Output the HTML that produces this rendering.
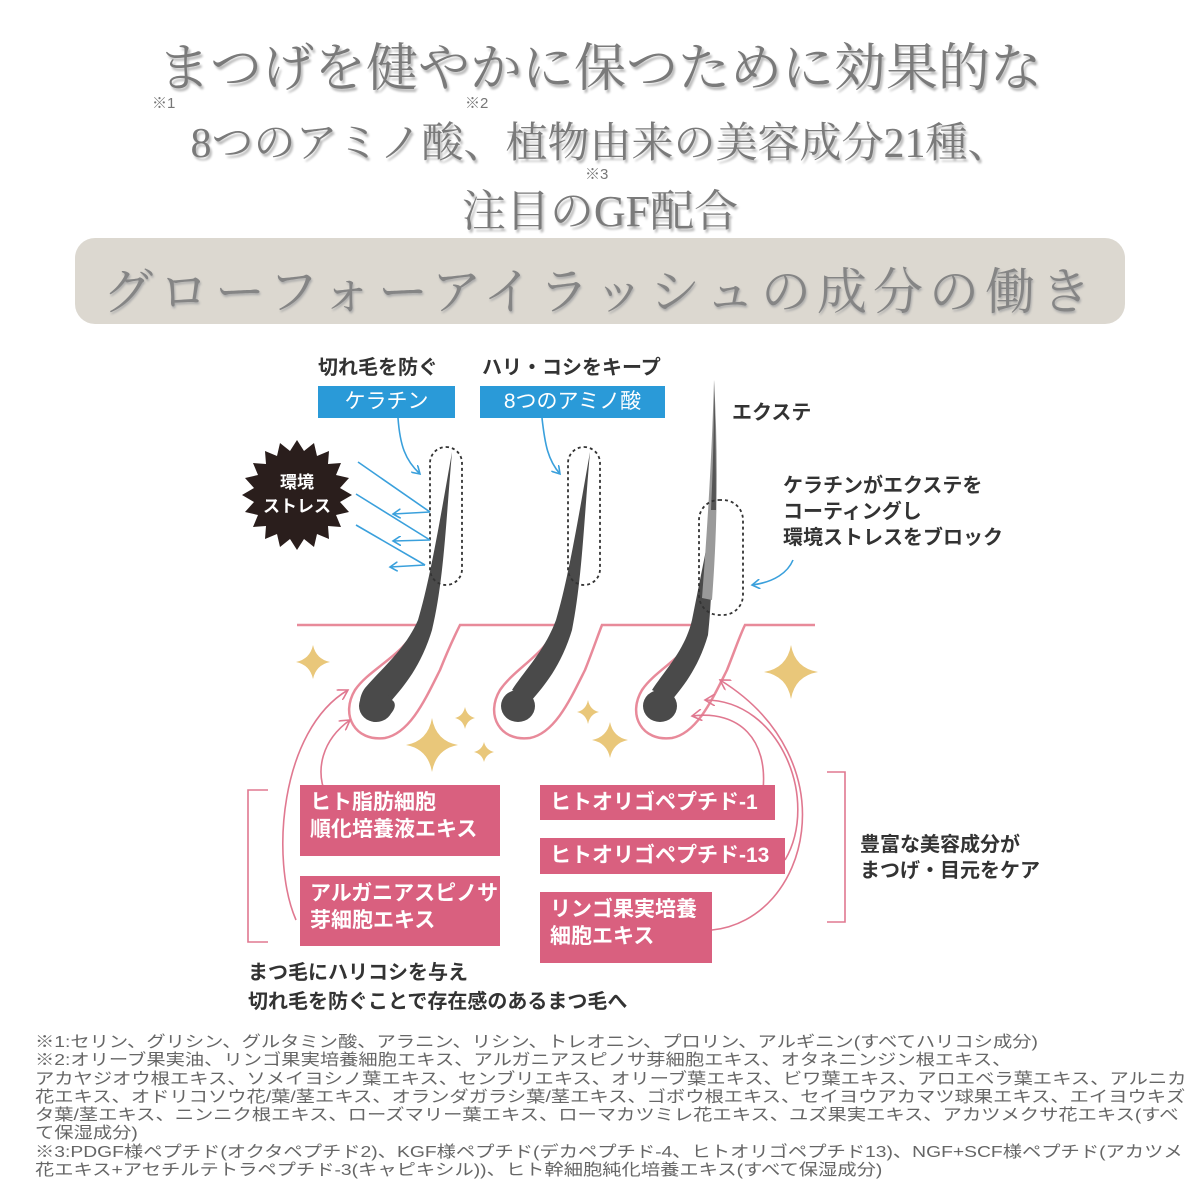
<!DOCTYPE html>
<html><head><meta charset="utf-8"><style>
body{margin:0;width:1200px;height:1200px;background:#fff;position:relative;overflow:hidden;font-family:"Liberation Sans","Noto Sans CJK JP",sans-serif}
.t{position:absolute;left:0;width:1200px;text-align:center;font-family:"Liberation Serif","Noto Serif CJK SC",serif;color:#7a7a7a;text-shadow:2px 3px 2px #bbb;white-space:nowrap}
.sup{position:absolute;font-size:15px;color:#777;font-family:"Liberation Sans","Noto Sans CJK JP",sans-serif}
.lbl{position:absolute;font-size:20px;font-weight:bold;color:#333;white-space:nowrap;line-height:26px}
.pk{position:absolute;background:#d9607f;color:#fff;font-size:21px;font-weight:bold;line-height:27px;padding:4px 10px;box-sizing:border-box;white-space:nowrap}
.bl{position:absolute;background:#2a9ad8;color:#fff;font-size:21px;text-align:center;line-height:32px;height:32px}
.fn{position:absolute;left:35px;top:1034px;font-size:16px;line-height:18.3px;color:#666;white-space:nowrap;transform:scaleX(1.205);transform-origin:0 0}
</style></head><body>
<div class="t" style="top:26px;font-size:52px;">まつげを健やかに保つために効果的な</div>
<div class="sup" style="left:152px;top:92px">※1</div>
<div class="sup" style="left:465px;top:92px">※2</div>
<div class="t" style="top:110px;font-size:42px;">8つのアミノ酸、植物由来の美容成分21種、</div>
<div class="sup" style="left:585px;top:163px">※3</div>
<div class="t" style="top:175px;font-size:44px;">注目のGF配合</div>
<div style="position:absolute;left:75px;top:238px;width:1050px;height:86px;border-radius:20px;background:#dcd8d0"></div>
<div class="t" style="top:252px;font-size:50px;letter-spacing:6px;color:#858585;text-shadow:1px 2px 2px #aaa">グローフォーアイラッシュの成分の働き</div>

<svg style="position:absolute;left:0;top:0" width="1200" height="1200">
<defs>
<marker id="ab" markerWidth="10" markerHeight="10" refX="8" refY="5" orient="auto" markerUnits="userSpaceOnUse"><path d="M0,0 L8,5 L0,10" fill="none" stroke="#3aa0dc" stroke-width="1.6"/></marker>
<marker id="ap" markerWidth="12" markerHeight="12" refX="10" refY="6" orient="auto" markerUnits="userSpaceOnUse"><path d="M0,0 L10,6 L0,12" fill="none" stroke="#e07890" stroke-width="1.6"/></marker>
</defs>
<path d="M297,625 H418 C405,655 370,668 355,690 C340,715 355,742 385,738 C410,733 425,700 440,670 C448,650 455,635 460,625 H558 C545,655 515,668 500,690 C485,715 500,742 530,738 C555,733 570,700 585,670 C593,650 598,635 602,625 H702 C690,655 657,668 642,690 C627,715 642,742 672,738 C697,733 712,700 727,670 C735,650 740,635 745,625 H815" fill="none" stroke="#e88a9a" stroke-width="2.5"/>
<g fill="#4a4a4a">
<path d="M452,452 C446,520 444,580 432,630 C420,670 400,690 392,700 C400,705 390,720 375,722 C358,720 356,700 365,688 C380,670 405,650 418,620 C430,580 440,520 452,452 Z"/>
<ellipse cx="376" cy="706" rx="17" ry="16"/>
<path d="M590,452 C584,520 582,580 572,630 C560,670 540,690 532,700 L512,690 C525,670 545,650 556,620 C568,580 578,520 590,452 Z"/>
<ellipse cx="518" cy="706" rx="17" ry="16"/>
<path d="M716,500 C712,560 712,600 708,635 C698,670 680,690 672,700 L652,690 C665,670 685,650 692,620 C700,580 708,540 716,500 Z"/>
<ellipse cx="660" cy="706" rx="17" ry="16"/>
</g>
<path d="M714,380 C718,450 718,520 712,600 L702,598 C708,520 712,450 714,380 Z" fill="#9a9a9a"/>
<path d="M714,380 C716,440 716,480 716,510 L711,510 C713,470 714,430 714,380Z" fill="#555"/>
<rect x="430" y="447" width="32" height="138" rx="16" fill="none" stroke="#333" stroke-width="1.8" stroke-dasharray="3,3"/>
<rect x="568" y="447" width="32" height="138" rx="16" fill="none" stroke="#333" stroke-width="1.8" stroke-dasharray="3,3"/>
<rect x="699" y="500" width="44" height="115" rx="20" fill="none" stroke="#333" stroke-width="1.8" stroke-dasharray="3,3"/>
<g stroke="#3aa0dc" stroke-width="1.6" fill="none">
<line x1="358" y1="462" x2="430" y2="512"/>
<line x1="356" y1="494" x2="430" y2="540"/>
<line x1="356" y1="525" x2="425" y2="565"/>
<line x1="430" y1="512" x2="393" y2="514" marker-end="url(#ab)"/>
<line x1="430" y1="540" x2="393" y2="541" marker-end="url(#ab)"/>
<line x1="425" y1="565" x2="390" y2="567" marker-end="url(#ab)"/>
<path d="M398,418 C400,445 405,460 420,474" marker-end="url(#ab)"/>
<path d="M542,418 C545,445 548,460 560,474" marker-end="url(#ab)"/>
<path d="M793,560 C788,572 775,582 752,585" marker-end="url(#ab)"/>
</g>
<g stroke="#e07890" stroke-width="1.6" fill="none">
<path d="M296,920 C270,860 280,730 348,690" marker-end="url(#ap)"/>
<path d="M326,795 C315,770 322,740 350,720" marker-end="url(#ap)"/>
<path d="M763,790 C768,740 740,710 692,716" marker-end="url(#ap)"/>
<path d="M785,860 C820,800 780,700 705,700" marker-end="url(#ap)"/>
<path d="M712,930 C810,920 850,760 720,680" marker-end="url(#ap)"/>
<polyline points="268,790 248,790 248,942 268,942"/>
<polyline points="827,772 845,772 845,922 827,922"/>
</g>
<g fill="#e9c77a">
<path d="M313,645 Q316,659 330,662 Q316,665 313,679 Q310,665 296,662 Q310,659 313,645Z"/>
<path d="M432,718 Q436,741 458,745 Q436,749 432,772 Q428,749 406,745 Q428,741 432,718Z"/>
<path d="M465,707 Q467,716 475,718 Q467,720 465,729 Q463,720 455,718 Q463,716 465,707Z"/>
<path d="M484,742 Q486,750 494,752 Q486,754 484,762 Q482,754 474,752 Q482,750 484,742Z"/>
<path d="M588,700 Q590,710 599,712 Q590,714 588,724 Q586,714 577,712 Q586,710 588,700Z"/>
<path d="M610,722 Q613,737 628,740 Q613,743 610,758 Q607,743 592,740 Q607,737 610,722Z"/>
<path d="M791,645 Q795,668 818,672 Q795,676 791,699 Q787,676 764,672 Q787,668 791,645Z"/>
</g>
<polygon fill="#2a1e1c" points="297,440 304,451 314,443 317,456 329,451 328,464 341,463 336,475 349,478 340,488 352,495 340,502 349,512 336,515 341,527 328,526 329,539 317,534 314,547 304,539 297,550 290,539 280,547 277,534 265,539 266,526 253,527 258,515 245,512 254,502 242,495 254,488 245,478 258,475 253,463 266,464 265,451 277,456 280,443 290,451"/>
<text x="297" y="488" fill="#fff" font-size="17" font-weight="bold" text-anchor="middle" font-family="Liberation Sans,Noto Sans CJK JP,sans-serif">環境</text>
<text x="297" y="512" fill="#fff" font-size="17" font-weight="bold" text-anchor="middle" font-family="Liberation Sans,Noto Sans CJK JP,sans-serif">ストレス</text>
</svg>

<div class="lbl" style="left:318px;top:355px">切れ毛を防ぐ</div>
<div class="lbl" style="left:482px;top:355px">ハリ・コシをキープ</div>
<div class="bl" style="left:318px;top:386px;width:137px">ケラチン</div>
<div class="bl" style="left:480px;top:386px;width:185px">8つのアミノ酸</div>
<div class="lbl" style="left:732px;top:400px">エクステ</div>
<div class="lbl" style="left:783px;top:473px">ケラチンがエクステを<br>コーティングし<br>環境ストレスをブロック</div>

<div class="pk" style="left:300px;top:785px;width:200px;height:71px">ヒト脂肪細胞<br>順化培養液エキス</div>
<div class="pk" style="left:300px;top:876px;width:200px;height:70px">アルガニアスピノサ<br>芽細胞エキス</div>
<div class="pk" style="left:540px;top:785px;width:235px;height:35px;line-height:27px">ヒトオリゴペプチド-1</div>
<div class="pk" style="left:540px;top:838px;width:245px;height:36px">ヒトオリゴペプチド-13</div>
<div class="pk" style="left:540px;top:892px;width:172px;height:71px">リンゴ果実培養<br>細胞エキス</div>

<div class="lbl" style="left:860px;top:832px">豊富な美容成分が<br>まつげ・目元をケア</div>
<div class="lbl" style="left:248px;top:959px;line-height:29px">まつ毛にハリコシを与え<br>切れ毛を防ぐことで存在感のあるまつ毛へ</div>

<div class="fn">※1:セリン、グリシン、グルタミン酸、アラニン、リシン、トレオニン、プロリン、アルギニン(すべてハリコシ成分)<br>※2:オリーブ果実油、リンゴ果実培養細胞エキス、アルガニアスピノサ芽細胞エキス、オタネニンジン根エキス、<br>アカヤジオウ根エキス、ソメイヨシノ葉エキス、センブリエキス、オリーブ葉エキス、ビワ葉エキス、アロエベラ葉エキス、アルニカ<br>花エキス、オドリコソウ花/葉/茎エキス、オランダガラシ葉/茎エキス、ゴボウ根エキス、セイヨウアカマツ球果エキス、エイヨウキズ<br>タ葉/茎エキス、ニンニク根エキス、ローズマリー葉エキス、ローマカツミレ花エキス、ユズ果実エキス、アカツメクサ花エキス(すべ<br>て保湿成分)<br>※3:PDGF様ペプチド(オクタペプチド2)、KGF様ペプチド(デカペプチド-4、ヒトオリゴペプチド13)、NGF+SCF様ペプチド(アカツメ<br>花エキス+アセチルテトラペプチド-3(キャピキシル))、ヒト幹細胞純化培養エキス(すべて保湿成分)</div>
</body></html>
